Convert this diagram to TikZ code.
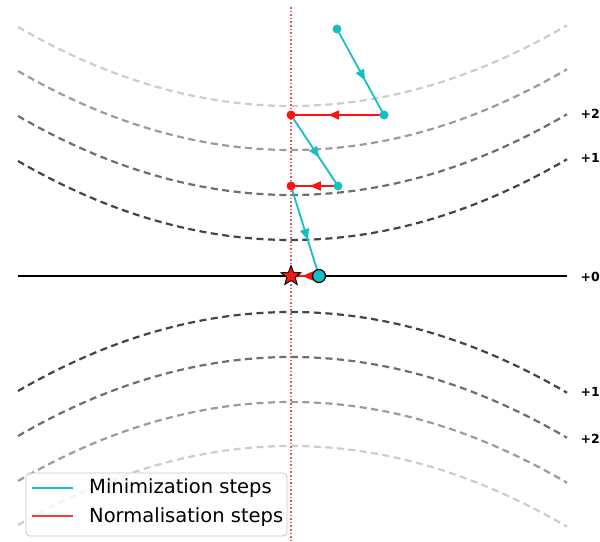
\documentclass[tikz,border=0pt]{standalone}
\usepackage{fontspec}
\setmainfont{DejaVu Sans}
\usetikzlibrary{shapes.geometric,decorations.markings,arrows.meta}
\definecolor{teal1}{RGB}{23,190,195}
\definecolor{red1}{RGB}{250,20,20}
\definecolor{dotred}{RGB}{215,95,95}
\definecolor{g1}{RGB}{68,68,68}
\definecolor{g2}{RGB}{110,110,110}
\definecolor{g3}{RGB}{155,155,155}
\definecolor{g4}{RGB}{205,205,205}
\tikzset{
  level/.style={line width=2.2bp, dash pattern=on 7bp off 4.5bp},
  tdot/.style={circle, fill=teal1, inner sep=0pt, minimum size=9bp},
  rdot/.style={circle, fill=red1, inner sep=0pt, minimum size=9bp},
  midarrow/.style={postaction={decorate}, decoration={markings,
     mark=at position 0.6 with {\arrow{Triangle[length=11bp,width=9bp]}}}},
  minstep/.style={teal1, line width=1.8bp, midarrow},
  normstep/.style={red1, line width=1.8bp, midarrow},
  lvl/.style={font=\bfseries\fontsize{12.5bp}{14bp}\selectfont, anchor=west, inner sep=0pt},
  legtext/.style={font=\fontsize{19.5bp}{22bp}\selectfont, anchor=west, inner sep=0pt},
}
\begin{document}
\begin{tikzpicture}[x=1bp, y=-1bp]
\useasboundingbox (0,0) rectangle (600,542);
% upper level curves
\draw[level, g4] plot[domain=18:567, samples=80] (\x, {106 - 79*((\x-291)/273)^2});
\draw[level, g3] plot[domain=18:567, samples=80] (\x, {150 - 79*((\x-291)/273)^2});
\draw[level, g2] plot[domain=18:567, samples=80] (\x, {195 - 79*((\x-291)/273)^2});
\draw[level, g1] plot[domain=18:567, samples=80] (\x, {240 - 79*((\x-291)/273)^2});
% lower level curves
\draw[level, g1] plot[domain=18:567, samples=80] (\x, {312 + 79*((\x-291)/273)^2});
\draw[level, g2] plot[domain=18:567, samples=80] (\x, {357 + 79*((\x-291)/273)^2});
\draw[level, g3] plot[domain=18:567, samples=80] (\x, {402 + 79*((\x-291)/273)^2});
\draw[level, g4] plot[domain=18:567, samples=80] (\x, {446 + 79*((\x-291)/273)^2});
% axis and vertical dotted line
\coordinate (vtop) at (291,7);
\coordinate (vbot) at (291,542);
\draw[dotred, line width=1.6bp, dash pattern=on 1.6bp off 2bp] (vtop) -- (vbot);
\coordinate (axl) at (18,276);
\coordinate (axr) at (567,276);
\draw[black, line width=2bp] (axl) -- (axr);
% labels
\node[lvl] (l2u) at (580.5,114) {+2};
\node[lvl] (l1u) at (580.5,158) {+1};
\node[lvl] (l0) at (580.5,277) {+0};
\node[lvl] (l1d) at (580.5,392) {+1};
\node[lvl] (l2d) at (580.5,439) {+2};
% points
\coordinate (p0) at (337,29);
\coordinate (p1) at (384,115);
\coordinate (q1) at (291,115);
\coordinate (p2) at (338,186);
\coordinate (q2) at (291,186);
\coordinate (p3) at (319,276);
\coordinate (q3) at (291,276);
\draw[minstep] (p0) -- (p1);
\draw[normstep] (p1) -- (q1);
\draw[minstep] (q1) -- (p2);
\draw[normstep] (p2) -- (q2);
\draw[minstep] (q2) -- (p3);
\draw[normstep] (p3) -- (q3);
\node[tdot] (d0) at (p0) {};
\node[tdot] (d1) at (p1) {};
\node[rdot] (e1) at (q1) {};
\node[tdot] (d2) at (p2) {};
\node[rdot] (e2) at (q2) {};
\node[circle, fill=teal1, draw=black, line width=1.2bp, inner sep=0pt, minimum size=13bp] (d3) at (p3) {};
\node[star, star points=5, star point ratio=2.4, fill=red1, draw=black, line width=0.9bp, inner sep=0pt, minimum size=21bp] (star) at (q3) {};
% legend
\node[draw=black!22, fill=white, fill opacity=0.8, rounded corners=4bp, line width=0.8bp,
      minimum width=261bp, minimum height=63bp, inner sep=0pt] (legend) at (156.5,504.5) {};
\coordinate (la1) at (32,488);
\coordinate (lb1) at (73,488);
\coordinate (la2) at (32,516);
\coordinate (lb2) at (73,516);
\draw[teal1, line width=2bp] (la1) -- (lb1);
\draw[red1!85!white, line width=2bp] (la2) -- (lb2);
\node[legtext] (t1) at (89,488) {Minimization steps};
\node[legtext] (t2) at (89,517) {Normalisation steps};
\end{tikzpicture}
\end{document}
